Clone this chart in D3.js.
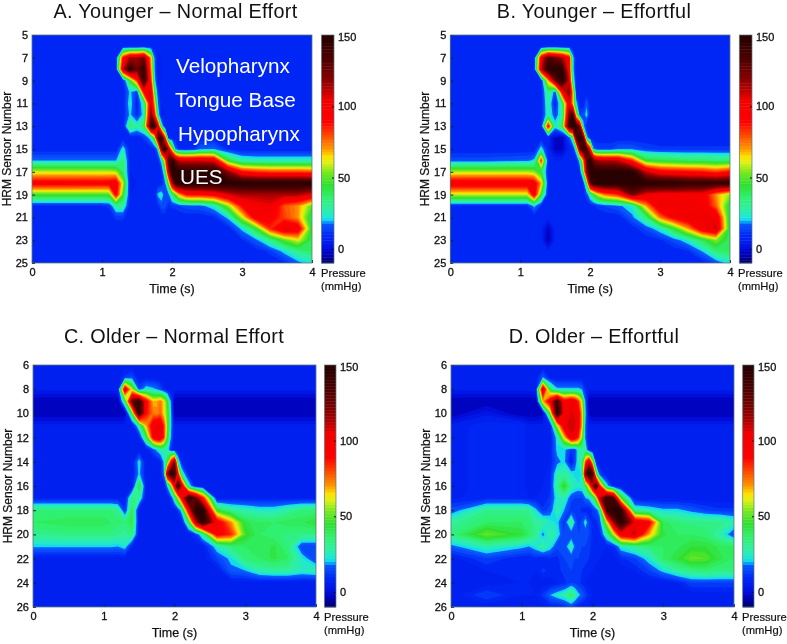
<!DOCTYPE html>
<html><head><meta charset="utf-8">
<script src="https://cdn.jsdelivr.net/npm/d3@7"></script>
<style>
html,body{margin:0;padding:0;background:#fff}
svg{display:block;font-family:"Liberation Sans",Arial,sans-serif;filter:blur(0.45px)}
.tick text{font-size:11px;font-weight:400;fill:#111;stroke:#111;stroke-width:.3px}
</style></head><body>
<svg id="c" width="787" height="644"></svg>
<script>
const times=[0,.5,1,1.1,1.2,1.3,1.4,1.5,1.6,1.7,1.75,1.8,1.85,1.9,1.95,2,2.05,2.1,2.2,2.3,2.4,2.6,2.8,3,3.2,3.4,3.6,3.8,4];
const sensorsYoung=d3.range(5,26);
const sensorsOld=d3.range(6,27);
const timeTicks=[0,1,2,3,4];
const barTicks=[0,50,100,150];
const levels=d3.range(-10,151,3);
const colorValues=[-10,-5,0,5,9,12,17,18,19.5,22,28,35,44,52,60,64,70,78,88,104,112,120,132,144,150];
const colorStops=["#000070","#0000b8","#0010e0","#0020f0","#0028f8","#0540f8","#0a58ff","#00a0ff","#10d8f0","#20e8d0","#30f0a0","#30f070","#30e030","#70e820","#e0f010","#ffe000","#ff9000","#ff5000","#ff0000","#f00000","#b00000","#800000","#500000","#300000","#280000"];

const panelA=[
[8,8,8,8,8,8,8,8,8, 8,8,8,8,8,8,8,8,8, 8,8,8,8,8,8,8,8,8,8,8],
[8,8,8,8,8,8,8,8,8, 8,8,8,8,8,8,8,8,8, 8,8,8,8,8,8,8,8,8,8,8],
[8,8,8,8,8,90,115,115,125, 70,18,5,8,8,8,8,8,8, 8,8,8,8,8,8,8,8,8,8,8],
[8,8,8,8,8,110,148,125,145, 75,20,5,8,8,8,8,8,8, 8,8,8,8,8,8,8,8,8,8,8],
[8,8,8,8,8,8,45,85,145, 85,25,5,8,8,8,8,8,8, 8,8,8,8,8,8,8,8,8,8,8],
[8,8,8,8,8,8,22,12,95, 110,45,12,8,8,8,8,8,8, 8,8,8,8,8,8,8,8,8,8,8],
[8,8,8,8,8,8,25,8,30, 110,70,20,8,8,8,8,8,8, 8,8,8,8,8,8,8,8,8,8,8],
[8,8,8,8,8,8,22,10,25, 125,90,28,6,8,8,8,8,8, 8,8,8,8,8,8,8,8,8,8,8],
[8,8,8,8,8,8,38,28,40, 148,145,105,30,8,8,8,8,8, 8,8,8,8,8,8,8,8,8,8,8],
[8,8,8,8,8,8,8,8,12, 25,55,135,150,85,8,8,8,8, 8,8,8,8,8,8,8,8,8,8,8],
[8,8,8,8,8,25,8,8,8, 8,8,25,125,148,110,60,20,10, 8,10,18,20,10,8,8,8,8,8,8],
[20,20,20,20,20,35,8,8,8, 8,8,10,25,70,130,150,125,110, 108,108,108,105,45,28,26,26,26,26,26],
[60,60,60,60,58,38,8,8,8, 8,8,8,10,35,110,150,150,150, 150,150,150,150,120,90,85,82,82,82,80],
[96,96,95,96,100,60,6,8,8, 8,8,8,8,18,50,110,145,150, 150,150,150,150,150,150,150,150,150,150,150],
[48,48,48,48,95,48,8,8,8, 8,8,22,25,15,18,35,50,70, 88,90,90,95,108,115,115,115,115,115,105],
[10,10,10,12,30,30,8,8,8, 8,8,10,16,16,10,12,12,14, 16,17,17,25,55,90,100,105,80,72,50],
[8,8,8,8,12,12,8,8,8, 8,8,8,8,8,8,8,8,8, 8,8,8,10,22,60,98,95,82,72,38],
[8,8,8,8,8,8,8,8,8, 8,8,8,8,8,8,8,8,8, 8,8,8,8,8,22,45,85,105,100,42],
[8,8,8,8,8,8,8,8,8, 8,8,8,8,8,8,8,8,8, 8,8,8,8,8,10,18,32,50,62,40],
[8,8,8,8,8,8,8,8,8, 8,8,8,8,8,8,8,8,8, 8,8,8,8,8,8,8,12,22,32,38],
[8,8,8,8,8,8,8,8,8, 8,8,8,8,8,8,8,8,8, 8,8,8,8,8,8,8,8,10,18,24]];

const panelB=[
[8,8,8,8,8,8,8,8,8, 8,8,8,8,8,8,8,8,8, 8,8,8,8,8,8,8,8,8,8,8],
[8,8,8,8,8,8,8,8,8, 8,8,8,8,8,8,8,8,8, 8,8,8,8,8,8,8,8,8,8,8],
[8,8,8,8,8,100,135,125,115, 95,25,8,8,8,8,8,8,8, 8,8,8,8,8,8,8,8,8,8,8],
[8,8,8,8,8,110,148,150,148, 95,25,8,8,8,8,8,8,8, 8,8,8,8,8,8,8,8,8,8,8],
[8,8,8,8,8,8,70,125,150, 110,35,8,8,8,8,8,8,8, 8,8,8,8,8,8,8,8,8,8,8],
[8,8,8,8,8,8,35,15,95, 125,70,10,8,8,8,8,8,8, 8,8,8,8,8,8,8,8,8,8,8],
[8,8,8,8,8,8,30,8,35, 105,70,25,8,8,18,8,8,8, 8,8,8,8,8,8,8,8,8,8,8],
[8,8,8,8,8,8,28,15,28, 125,145,60,15,15,24,8,8,8, 8,8,8,8,8,8,8,8,8,8,8],
[8,8,8,8,8,8,95,25,40, 145,150,145,125,25,8,8,8,8, 8,8,8,8,8,8,8,8,8,8,8],
[8,8,8,8,8,8,8,-2,-2, 15,35,135,150,135,25,8,8,8, 8,8,8,8,8,8,8,8,8,8,8],
[8,8,8,8,8,25,8,-2,-2, 8,8,30,125,145,140,90,20,14, 14,14,18,18,14,12,12,12,12,12,12],
[16,16,18,18,22,85,8,8,8, 8,8,8,25,70,130,150,125,115, 112,112,110,85,45,42,40,38,38,36,36],
[58,58,58,58,55,42,8,8,8, 8,8,8,10,45,120,150,150,150, 150,150,150,148,110,95,92,90,88,82,90],
[100,100,100,100,98,70,8,8,8, 8,8,8,8,10,45,130,145,150, 150,150,150,150,150,150,150,145,145,145,145],
[60,60,60,60,100,45,8,8,8, 8,8,8,8,8,15,30,45,60, 75,80,85,125,105,100,100,100,100,72,55],
[10,10,10,10,22,10,8,8,8, 8,8,8,8,8,8,8,10,12, 14,16,18,25,70,105,102,102,100,78,40],
[8,8,8,8,8,8,8,8,8, 8,8,8,8,8,8,8,8,8, 8,8,8,18,35,75,95,105,105,105,38],
[8,8,8,8,8,8,-2,8,8, 8,8,8,8,8,8,8,8,8, 8,8,8,8,15,25,45,70,100,110,40],
[8,8,8,8,8,8,-4,8,8, 8,8,8,8,8,8,8,8,8, 8,8,8,8,8,10,16,25,40,55,38],
[8,8,8,8,8,8,8,8,8, 8,8,8,8,8,8,8,8,8, 8,8,8,8,8,8,8,10,20,35,38],
[8,8,8,8,8,8,8,8,8, 8,8,8,8,8,8,8,8,8, 8,8,8,8,8,8,8,8,8,15,24]];

const panelC=[
[6,6,6,6,6,6,6,6,6, 6,6,6,6,6,6,6,6,6, 6,6,6,6,6,6,6,6,6,6,6],
[6,6,6,6,6,12,15,6,6, 6,6,6,6,6,6,6,6,6, 6,6,6,6,6,6,6,6,6,6,6],
[6,6,6,6,6,105,60,15,25, 22,20,15,10,6,6,6,6,6, 6,6,6,6,6,6,6,6,6,6,6],
[-4,-4,-4,-4,-4,40,130,145,95, 68,70,75,65,45,18,-4,-4,-4, -4,-4,-4,-4,-4,-4,-4,-4,-4,-4,-4],
[-4,-4,-4,-4,-4,-3,45,150,90, 75,72,78,65,50,22,-4,-4,-4, -4,-4,-4,-4,-4,-4,-4,-4,-4,-4,-4],
[6,6,6,6,6,6,6,30,70, 100,105,105,85,50,22,6,6,6, 6,6,6,6,6,6,6,6,6,6,6],
[6,6,6,6,6,6,6,8,40, 95,105,105,85,45,20,6,6,6, 6,6,6,6,6,6,6,6,6,6,6],
[6,6,6,6,6,6,6,6,6, 15,22,28,28,26,12,6,6,6, 6,6,6,6,6,6,6,6,6,6,6],
[6,6,6,6,6,6,6,24,6, 6,6,8,22,45,90,125,30,10, 6,6,6,6,6,6,6,6,6,6,6],
[6,6,6,6,6,6,6,22,6, 6,6,6,20,120,150,145,90,30, 8,6,6,6,6,6,6,6,6,6,6],
[6,6,6,6,6,6,6,45,6, 6,6,6,6,22,50,100,150,110, 28,6,6,6,6,6,6,6,6,6,6],
[8,8,8,8,8,8,35,30,6, 6,6,6,6,6,12,30,60,95, 148,130,90,6,8,8,8,8,8,8,8],
[35,35,35,35,32,12,40,6,6, 6,6,6,6,6,6,6,12,25, 100,150,150,45,32,28,25,25,30,35,35],
[38,40,40,38,36,35,42,6,6, 6,6,6,6,6,6,6,6,6, 40,110,150,100,72,42,38,38,40,40,45],
[32,34,34,34,32,30,35,6,6, 6,6,6,6,6,6,6,6,6, 6,12,30,95,85,48,38,36,34,34,34],
[21,21,21,21,20,24,8,6,6, 6,6,6,6,6,6,6,6,6, 6,6,6,25,35,38,38,42,35,14,14],
[6,6,6,6,6,6,6,6,6, 6,6,6,6,6,6,6,6,6, 6,6,6,14,22,36,38,42,38,24,14],
[6,6,6,6,6,6,6,6,6, 6,6,6,6,6,6,6,6,6, 6,6,6,6,18,20,28,30,30,26,28],
[6,6,6,6,6,6,6,6,6, 6,6,6,6,6,6,6,6,6, 6,6,6,6,6,6,6,6,6,6,6],
[6,6,6,6,6,6,6,6,6, 6,6,6,6,6,6,6,6,6, 6,6,6,6,6,6,6,6,6,6,6],
[6,6,6,6,6,6,6,6,6, 6,6,6,6,6,6,6,6,6, 6,6,6,6,6,6,6,6,6,6,6]];

const panelD=[
[6,6,6,6,6,6,6,6,6, 6,6,6,6,6,6,6,6,6, 6,6,6,6,6,6,6,6,6,6,6],
[6,6,6,6,6,18,6,6,6, 6,6,6,6,6,6,6,6,6, 6,6,6,6,6,6,6,6,6,6,6],
[6,6,6,6,8,110,40,22,22, 22,22,22,20,10,6,6,6,6, 6,6,6,6,6,6,6,6,6,6,6],
[-4,-4,-4,-4,-4,70,100,140,95, 105,100,85,60,18,-4,-4,-4,-4, -4,-4,-4,-4,-4,-4,-4,-4,-4,-4,-4],
[-4,4,-4,-4,-4,-2,50,150,100, 108,105,100,70,22,-2,-4,-4,-4, -4,-4,-4,-4,-4,-4,-4,-4,-4,-4,-4],
[6,10,10,6,6,6,8,60,105, 110,110,100,70,18,6,6,6,6, 6,6,6,6,6,6,6,6,6,6,6],
[6,10,10,6,6,6,6,24,65, 105,100,85,55,18,6,6,6,6, 6,6,6,6,6,6,6,6,6,6,6],
[6,10,10,6,6,6,8,22,22, 12,14,26,30,30,8,6,6,6, 6,6,6,6,6,6,6,6,6,6,6],
[6,10,10,6,6,6,8,18,22, 5,15,26,30,80,110,60,10,6, 6,6,6,6,6,6,6,6,6,6,6],
[6,10,10,6,6,6,10,28,30, 24,22,20,24,125,150,145,50,15, 6,6,6,6,6,6,6,6,6,6,6],
[6,10,10,6,6,8,10,32,48, 30,26,24,25,40,70,110,150,90, 25,8,6,6,6,6,6,6,6,6,6],
[7,10,10,8,8,8,12,25,28, 15,14,14,14,20,22,30,55,110, 145,135,50,6,6,6,6,6,6,6,6],
[16,32,32,32,22,12,16,28,20, 12,12,12,10,8,8,12,15,25, 140,150,150,30,26,22,22,18,14,12,12],
[30,38,38,36,30,30,25,22,12, 35,20,12,15,25,14,10,10,14, 60,120,150,105,95,40,35,34,34,34,28],
[34,52,44,38,32,18,30,24,14, 14,14,14,14,14,14,10,10,10, 30,60,100,110,70,42,38,38,36,28,14],
[18,28,22,20,24,32,24,15,14, 30,18,14,14,14,12,10,8,8, 8,10,25,32,35,38,40,44,44,40,38],
[6,14,8,8,10,8,10,10,14, 14,14,14,13,12,11,10,9,8, 6,6,10,14,24,38,44,52,50,42,38],
[6,8,10,10,8,12,10,10,12, 14,13,12,11,10,9,8,7,6, 6,6,6,8,14,22,30,34,36,34,34],
[6,6,8,8,6,6,6,8,10, 14,13,12,10,8,7,6,6,6, 6,6,6,6,6,6,8,14,14,14,14],
[6,14,8,8,8,12,20,24,28, 38,30,22,18,14,10,8,7,6, 6,6,6,6,6,6,6,6,6,6,6],
[6,6,6,6,6,6,8,8,10, 14,10,8,7,6,6,6,6,6, 6,6,6,6,6,6,6,6,6,6,6]];

const colorScale=d3.scaleLinear().domain(colorValues).range(colorStops).clamp(true);
const svg=d3.select("#c");
const cols=times.length;
const idxToTime=d3.scaleLinear().domain(times.map((_,i)=>i+.5)).range(times).clamp(true);
const contourGen=d3.contours().size([cols,21]).thresholds(levels).smooth(true);
const geoPath=d3.geoPath();

function drawPanel(cfg){
  const x=d3.scaleLinear().domain([0,4]).range([cfg.x0,cfg.x1]);
  const y=d3.scaleLinear().domain([cfg.sensors[0],cfg.sensors[20]]).range([cfg.y0,cfg.y1]);
  const idxToSensor=d3.scaleLinear().domain(cfg.sensors.map((_,i)=>i+.5)).range(cfg.sensors).clamp(true);
  const mapRing=r=>r.map(p=>[x(idxToTime(p[0])),y(idxToSensor(p[1]))]);
  const g=svg.append("g");
  g.append("rect").attr("x",cfg.x0).attr("y",cfg.y0).attr("width",cfg.x1-cfg.x0).attr("height",cfg.y1-cfg.y0).attr("fill",colorScale(-10));
  const flat=cfg.data.flat();
  g.selectAll("path.band").data(contourGen(flat)).join("path").attr("class","band")
    .attr("fill",d=>colorScale(d.value))
    .attr("d",d=>geoPath({type:"MultiPolygon",coordinates:d.coordinates.map(poly=>poly.map(mapRing))}));
  const ax=d3.axisBottom(x).tickValues(timeTicks).tickFormat(d3.format("d")).tickSize(-3).tickPadding(5);
  const ay=d3.axisLeft(y).tickValues(cfg.sensors.filter((_,i)=>i%2==0)).tickFormat(d3.format("d")).tickSize(-3).tickPadding(4);
  const gx=g.append("g").attr("transform",`translate(0,${cfg.y1})`).call(ax);
  const gy=g.append("g").attr("transform",`translate(${cfg.x0},0)`).call(ay);
  [gx,gy].forEach(a=>{a.selectAll(".domain").remove();a.selectAll("line").attr("stroke","#123");});
  g.append("rect").attr("x",cfg.x0).attr("y",cfg.y0).attr("width",cfg.x1-cfg.x0).attr("height",cfg.y1-cfg.y0).attr("fill","none").attr("stroke","#5a7a7a").attr("stroke-width",.8);
  const by=d3.scaleLinear().domain([-10,150]).range([cfg.y1,cfg.y0]);
  const barLevels=d3.range(-10,150,2);
  g.selectAll("rect.cb").data(barLevels).join("rect").attr("class","cb")
    .attr("x",cfg.bx0).attr("width",cfg.bx1-cfg.bx0)
    .attr("y",d=>by(d+2)).attr("height",d=>by(d)-by(d+2)+.4).attr("fill",d=>colorScale(d));
  const ab=d3.axisRight(by).tickValues(barTicks).tickFormat(d3.format("d")).tickSize(-2).tickPadding(4);
  const gb=g.append("g").attr("transform",`translate(${cfg.bx1},0)`).call(ab);
  gb.selectAll(".domain").remove();
  gb.selectAll(".tick").filter(d=>d==150).select("text").attr("dy","0.5em");
  g.append("rect").attr("x",cfg.bx0).attr("y",cfg.y0).attr("width",cfg.bx1-cfg.bx0).attr("height",cfg.y1-cfg.y0).attr("fill","none").attr("stroke","#5a7a7a").attr("stroke-width",.7);
  g.append("text").attr("x",cfg.tx).attr("y",cfg.ty).attr("text-anchor","middle").attr("font-size",19.8).attr("letter-spacing",.35).attr("fill","#111").text(cfg.title);
  g.append("text").attr("x",(cfg.x0+cfg.x1)/2).attr("y",cfg.y1+30).attr("text-anchor","middle").attr("font-size",12.5).attr("fill","#111").attr("stroke","#111").attr("stroke-width",.25).text("Time (s)");
  g.append("text").attr("transform",`translate(${cfg.x0-21},${(cfg.y0+cfg.y1)/2}) rotate(-90)`).attr("text-anchor","middle").attr("font-size",12).attr("fill","#111").attr("stroke","#111").attr("stroke-width",.25).text("HRM Sensor Number");
  const pl=g.append("text").attr("font-size",11.2).attr("fill","#111").attr("stroke","#111").attr("stroke-width",.2);
  pl.append("tspan").attr("x",cfg.px).attr("y",cfg.y1+14).text("Pressure");
  pl.append("tspan").attr("x",cfg.px).attr("y",cfg.y1+27).text("(mmHg)");
}
const titles=["A. Younger – Normal Effort","B. Younger – Effortful","C. Older – Normal Effort","D. Older – Effortful"];
drawPanel({data:panelA,sensors:sensorsYoung,x0:32,x1:312,y0:35,y1:263,bx0:321.5,bx1:334,px:321,tx:175.5,ty:18.2,title:titles[0]});
drawPanel({data:panelB,sensors:sensorsYoung,x0:450.3,x1:730,y0:35,y1:263,bx0:739.3,bx1:752,px:738,tx:594,ty:18.2,title:titles[1]});
drawPanel({data:panelC,sensors:sensorsOld,x0:33,x1:316,y0:365,y1:607,bx0:324.5,bx1:336,px:324,tx:174,ty:343,title:titles[2]});
drawPanel({data:panelD,sensors:sensorsOld,x0:451,x1:734,y0:365,y1:607,bx0:742.7,bx1:754,px:742,tx:594,ty:343,title:titles[3]});
const notes=[["Velopharynx",176,72.7],["Tongue Base",175,106.7],["Hypopharynx",178,140.6],["UES",180,184.3]];
svg.selectAll("text.note").data(notes).join("text").attr("class","note").attr("x",d=>d[1]).attr("y",d=>d[2]).attr("font-size",20.7).attr("fill","#fff").text(d=>d[0]);
</script>
</body></html>
